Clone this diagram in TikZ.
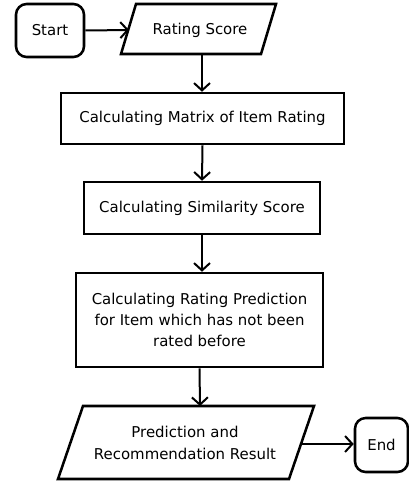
\documentclass[tikz,border=0pt]{standalone}
\usepackage{fontspec}
\setmainfont{DejaVu Sans}
\usetikzlibrary{arrows.meta}
\begin{document}
\begin{tikzpicture}[x=0.75pt,y=-0.75pt,
  lbl/.style={font=\fontsize{11.2}{16}\selectfont},
  box/.style={draw,line width=1.9pt,rectangle,inner sep=0pt,align=center,lbl},
  term/.style={box,rounded corners=8pt},
  txt/.style={inner sep=0pt,align=center,lbl},
  para/.style={draw,line width=1.9pt,line join=miter},
  conn/.style={line width=1.5pt,-{Straight Barb[length=5.5pt,width=12pt,line width=1.5pt]}}]
\useasboundingbox (0,0) rectangle (409,485);
% Start
\node[term,minimum width=51pt,minimum height=39.75pt] (start) at (50,30.5) {Start};
% Rating Score parallelogram
\draw[para] (136,4) -- (276,4) -- (261,54) -- (121,54) -- cycle;
\node[txt] (rs) at (200,30) {Rating Score};
\coordinate (rsL) at (129,30);
\coordinate (rsB) at (202,54);
% boxes
\node[box,minimum width=212.25pt,minimum height=38.25pt] (b1) at (202.5,118.5) {Calculating Matrix of Item Rating};
\node[box,minimum width=177pt,minimum height=39pt] (b2) at (202,208) {Calculating Similarity Score};
\node[box,minimum width=185.25pt,minimum height=70.5pt] (b3) at (199.5,320) {Calculating Rating Prediction\\for Item which has not been\\rated before};
% output parallelogram
\draw[para] (83,406) -- (314,406) -- (289,479) -- (58,479) -- cycle;
\node[txt] (pr) at (185,443) {Prediction and\\Recommendation Result};
\coordinate (prT) at (200,406);
\coordinate (prR) at (301,444);
% End
\node[term,minimum width=39.75pt,minimum height=40.5pt] (end) at (381.5,445) {End};
% connectors
\draw[conn] (start.east) -- (rsL);
\draw[conn] (rsB) -- (rsB |- b1.north);
\draw[conn] (b1.south) -- (b2.north);
\draw[conn] (b2.south) -- (b2.south |- b3.north);
\draw[conn] (b3.south) -- (prT);
\draw[conn] (prR) -- (prR -| end.west);
\end{tikzpicture}
\end{document}
